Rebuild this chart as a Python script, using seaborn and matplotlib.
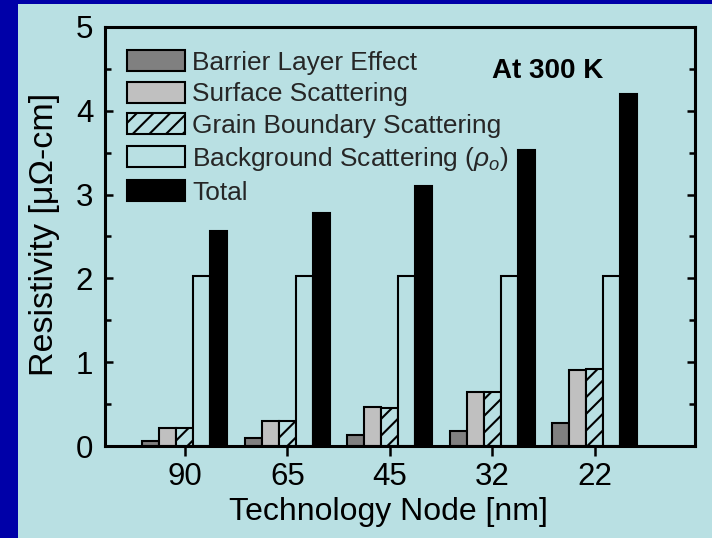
import numpy as np
import pandas as pd
import matplotlib
matplotlib.use('Agg')
import matplotlib.pyplot as plt
import seaborn as sns
from matplotlib.patches import Rectangle
from matplotlib.ticker import MultipleLocator

# ---- data ----
nodes = ['90', '65', '45', '32', '22']
components = ['Barrier Layer Effect', 'Surface Scattering',
              'Grain Boundary Scattering', r'Background Scattering ($\rho_o$)', 'Total']
barrier = [0.06, 0.09, 0.13, 0.18, 0.28]
surface = [0.22, 0.30, 0.46, 0.64, 0.91]
grain = [0.22, 0.30, 0.45, 0.64, 0.92]
background = [2.03, 2.03, 2.03, 2.03, 2.03]
total = [2.57, 2.78, 3.10, 3.53, 4.20]

series = [barrier, surface, grain, background, total]
rows = []
for comp, vals in zip(components, series):
    for n, v in zip(nodes, vals):
        rows.append({'node': n, 'component': comp, 'value': v})
df = pd.DataFrame(rows)

sns.set_style('ticks')
plt.rcParams['font.family'] = ['Liberation Sans', 'DejaVu Sans']
plt.rcParams['mathtext.fontset'] = 'custom'
plt.rcParams['mathtext.it'] = 'Liberation Sans:italic'
plt.rcParams['mathtext.rm'] = 'Liberation Sans'
plt.rcParams['hatch.linewidth'] = 1.5

panel = '#b9e0e3'
fig = plt.figure(figsize=(7.12, 5.38), dpi=100)
fig.patch.set_facecolor('#0000a8')
fig.add_artist(Rectangle((18 / 712, 0), 1, (538 - 4) / 538, transform=fig.transFigure,
                         facecolor=panel, edgecolor='none', zorder=-10))

ax = fig.add_axes([105 / 712, (538 - 446) / 538, 590 / 712, 419 / 538])
ax.set_zorder(5)
ax.set_facecolor(panel)

palette = ['#808080', '#c0c0c0', panel, panel, '#000000']
sns.barplot(data=df, x='node', y='value', hue='component', order=nodes,
            hue_order=components, palette=palette, saturation=1, width=0.83,
            gap=0, edgecolor='black', linewidth=1.5, errorbar=None,
            legend=False, ax=ax)
for p in ax.containers[2]:
    p.set_hatch('//')

ax.set_xlim(-0.78, 4.98)
ax.set_ylim(0, 5)
ax.yaxis.set_major_locator(MultipleLocator(1))
ax.yaxis.set_minor_locator(MultipleLocator(0.5))

for s in ax.spines.values():
    s.set_linewidth(2.2)
    s.set_color('black')

ax.tick_params(axis='y', which='both', direction='in', left=True, right=True,
               width=1.8, labelsize=22.5, pad=8.5, colors='black')
ax.tick_params(axis='y', which='major', length=6)
ax.tick_params(axis='y', which='minor', length=4)
ax.tick_params(axis='x', which='major', direction='out', bottom=True, top=False,
               length=7, width=1.8, labelsize=22.5, pad=4.5, colors='black')

ax.set_xlabel('Technology Node [nm]', fontsize=23, color='black')
ax.xaxis.set_label_coords(0.481, -0.122)
ax.set_ylabel('Resistivity [μΩ-cm]', fontsize=24.5, color='black')
ax.yaxis.set_label_coords(-0.077, 0.505)

ax.legend(handles=list(ax.containers), labels=components, loc='upper left',
          bbox_to_anchor=(0.037, 0.945), frameon=False, fontsize=18.9,
          handlelength=2.2, handleheight=0.85, labelspacing=0.27,
          handletextpad=0.3, borderpad=0, borderaxespad=0)

ax.text(0.751, 0.895, 'At 300 K', transform=ax.transAxes, ha='center', va='center',
        fontsize=20, fontweight='bold', color='black')

fig.savefig('out.png', dpi=100, facecolor=fig.get_facecolor())
